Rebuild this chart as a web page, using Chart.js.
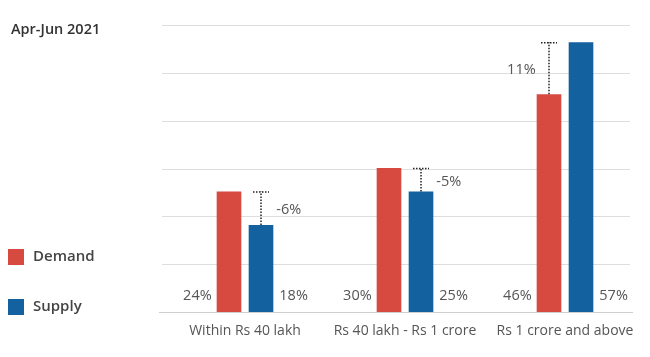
<!DOCTYPE html>
<html>
<head>
<meta charset="utf-8">
<script src="https://cdn.jsdelivr.net/npm/chart.js@4"></script>
<style>
  html, body { margin: 0; padding: 0; background: #fff; }
  #wrap { position: relative; width: 650px; height: 357px; font-family: "Open Sans", sans-serif; }
  canvas { position: absolute; left: 0; top: 0; }
  .title { position: absolute; left: 11px; top: 20px; font-size: 14.5px; line-height: 18px; font-weight: 600; color: #333; }
  .leg { position: absolute; left: 8px; width: 16px; height: 16px; }
  .legtxt { position: absolute; left: 33px; font-size: 15px; line-height: 18px; font-weight: 600; color: #444; }
</style>
</head>
<body>
<div id="wrap">
  <canvas id="c" width="650" height="357"></canvas>
  <div class="title">Apr-Jun 2021</div>
  <div class="leg" style="top:249px;background:#d64a40"></div>
  <div class="legtxt" style="top:246px">Demand</div>
  <div class="leg" style="top:299px;background:#1461a0"></div>
  <div class="legtxt" style="top:296px">Supply</div>
</div>
<script>
const categories = ["Within Rs 40 lakh", "Rs 40 lakh - Rs 1 crore", "Rs 1 crore and above"];
const demandValues = [25.2, 30.1, 45.5];
const supplyValues = [18.2, 25.2, 56.4];
const demandShare = ["24%", "30%", "46%"];
const supplyShare = ["18%", "25%", "57%"];
const changeLabels = ["-6%", "-5%", "11%"];
const gridTicks = [0, 10, 20, 30, 40, 50, 60];

const FONT = '"Open Sans", sans-serif';

const decor = {
  id: 'decor',
  beforeDatasetsDraw(chart) {
    const ctx = chart.ctx, y = chart.scales.y;
    ctx.save();
    ctx.lineWidth = 1;
    gridTicks.forEach(t => {
      const py = Math.round(y.getPixelForValue(t)) + 0.5;
      ctx.strokeStyle = t === 0 ? '#cfcfcf' : '#dedede';
      ctx.beginPath();
      ctx.moveTo(t === 0 ? 159 : 162, py);
      ctx.lineTo(t === 0 ? 633 : 630, py);
      ctx.stroke();
    });
    ctx.restore();
  },
  afterDatasetsDraw(chart) {
    const ctx = chart.ctx;
    const y = chart.scales.y;
    const base = y.getPixelForValue(0);
    const m0 = chart.getDatasetMeta(0).data;
    const m1 = chart.getDatasetMeta(1).data;
    ctx.save();
    ctx.font = '14.5px ' + FONT;
    ctx.fillStyle = '#555';
    ctx.textBaseline = 'middle';
    categories.forEach((c, i) => {
      const d = m0[i], s = m1[i];
      ctx.textAlign = 'right';
      ctx.fillText(demandShare[i], d.x - d.width / 2 - 5, base - 16);
      ctx.textAlign = 'left';
      ctx.fillText(supplyShare[i], s.x + s.width / 2 + 6, base - 16);

      const shortIsSupply = supplyValues[i] < demandValues[i];
      const sh = shortIsSupply ? s : d;
      const tall = shortIsSupply ? d : s;
      ctx.save();
      ctx.strokeStyle = '#222';
      ctx.lineWidth = 1.5;
      ctx.setLineDash([1.5, 1.5]);
      ctx.beginPath();
      ctx.moveTo(sh.x, sh.y);
      ctx.lineTo(sh.x, tall.y);
      ctx.moveTo(sh.x - 8, tall.y + 0.5);
      ctx.lineTo(sh.x + 8, tall.y + 0.5);
      ctx.stroke();
      ctx.restore();
      const my = (sh.y + tall.y) / 2 + 2;
      if (shortIsSupply) {
        ctx.textAlign = 'left';
        ctx.fillText(changeLabels[i], sh.x + sh.width / 2 + 3, my);
      } else {
        ctx.textAlign = 'right';
        ctx.fillText(changeLabels[i], sh.x - sh.width / 2 - 1, my);
      }
    });
    ctx.restore();
  }
};

new Chart(document.getElementById('c'), {
  type: 'bar',
  data: {
    labels: categories,
    datasets: [
      { label: 'Demand', data: demandValues, backgroundColor: '#d64a40' },
      { label: 'Supply', data: supplyValues, backgroundColor: '#1461a0' }
    ]
  },
  options: {
    responsive: false,
    animation: false,
    devicePixelRatio: 1,
    categoryPercentage: 0.4,
    barPercentage: 0.77,
    layout: { padding: { left: 165, right: 5, top: 25, bottom: 0 } },
    plugins: { legend: { display: false }, tooltip: { enabled: false }, title: { display: false } },
    scales: {
      x: {
        grid: { display: false, drawTicks: false },
        border: { display: false },
        ticks: { color: '#555', font: { family: FONT, size: 14 }, padding: 11, maxRotation: 0 },
        afterFit(scale) { scale.height = 45; }
      },
      y: {
        display: false,
        min: 0,
        max: 60
      }
    }
  },
  plugins: [decor]
});
</script>
</body>
</html>
